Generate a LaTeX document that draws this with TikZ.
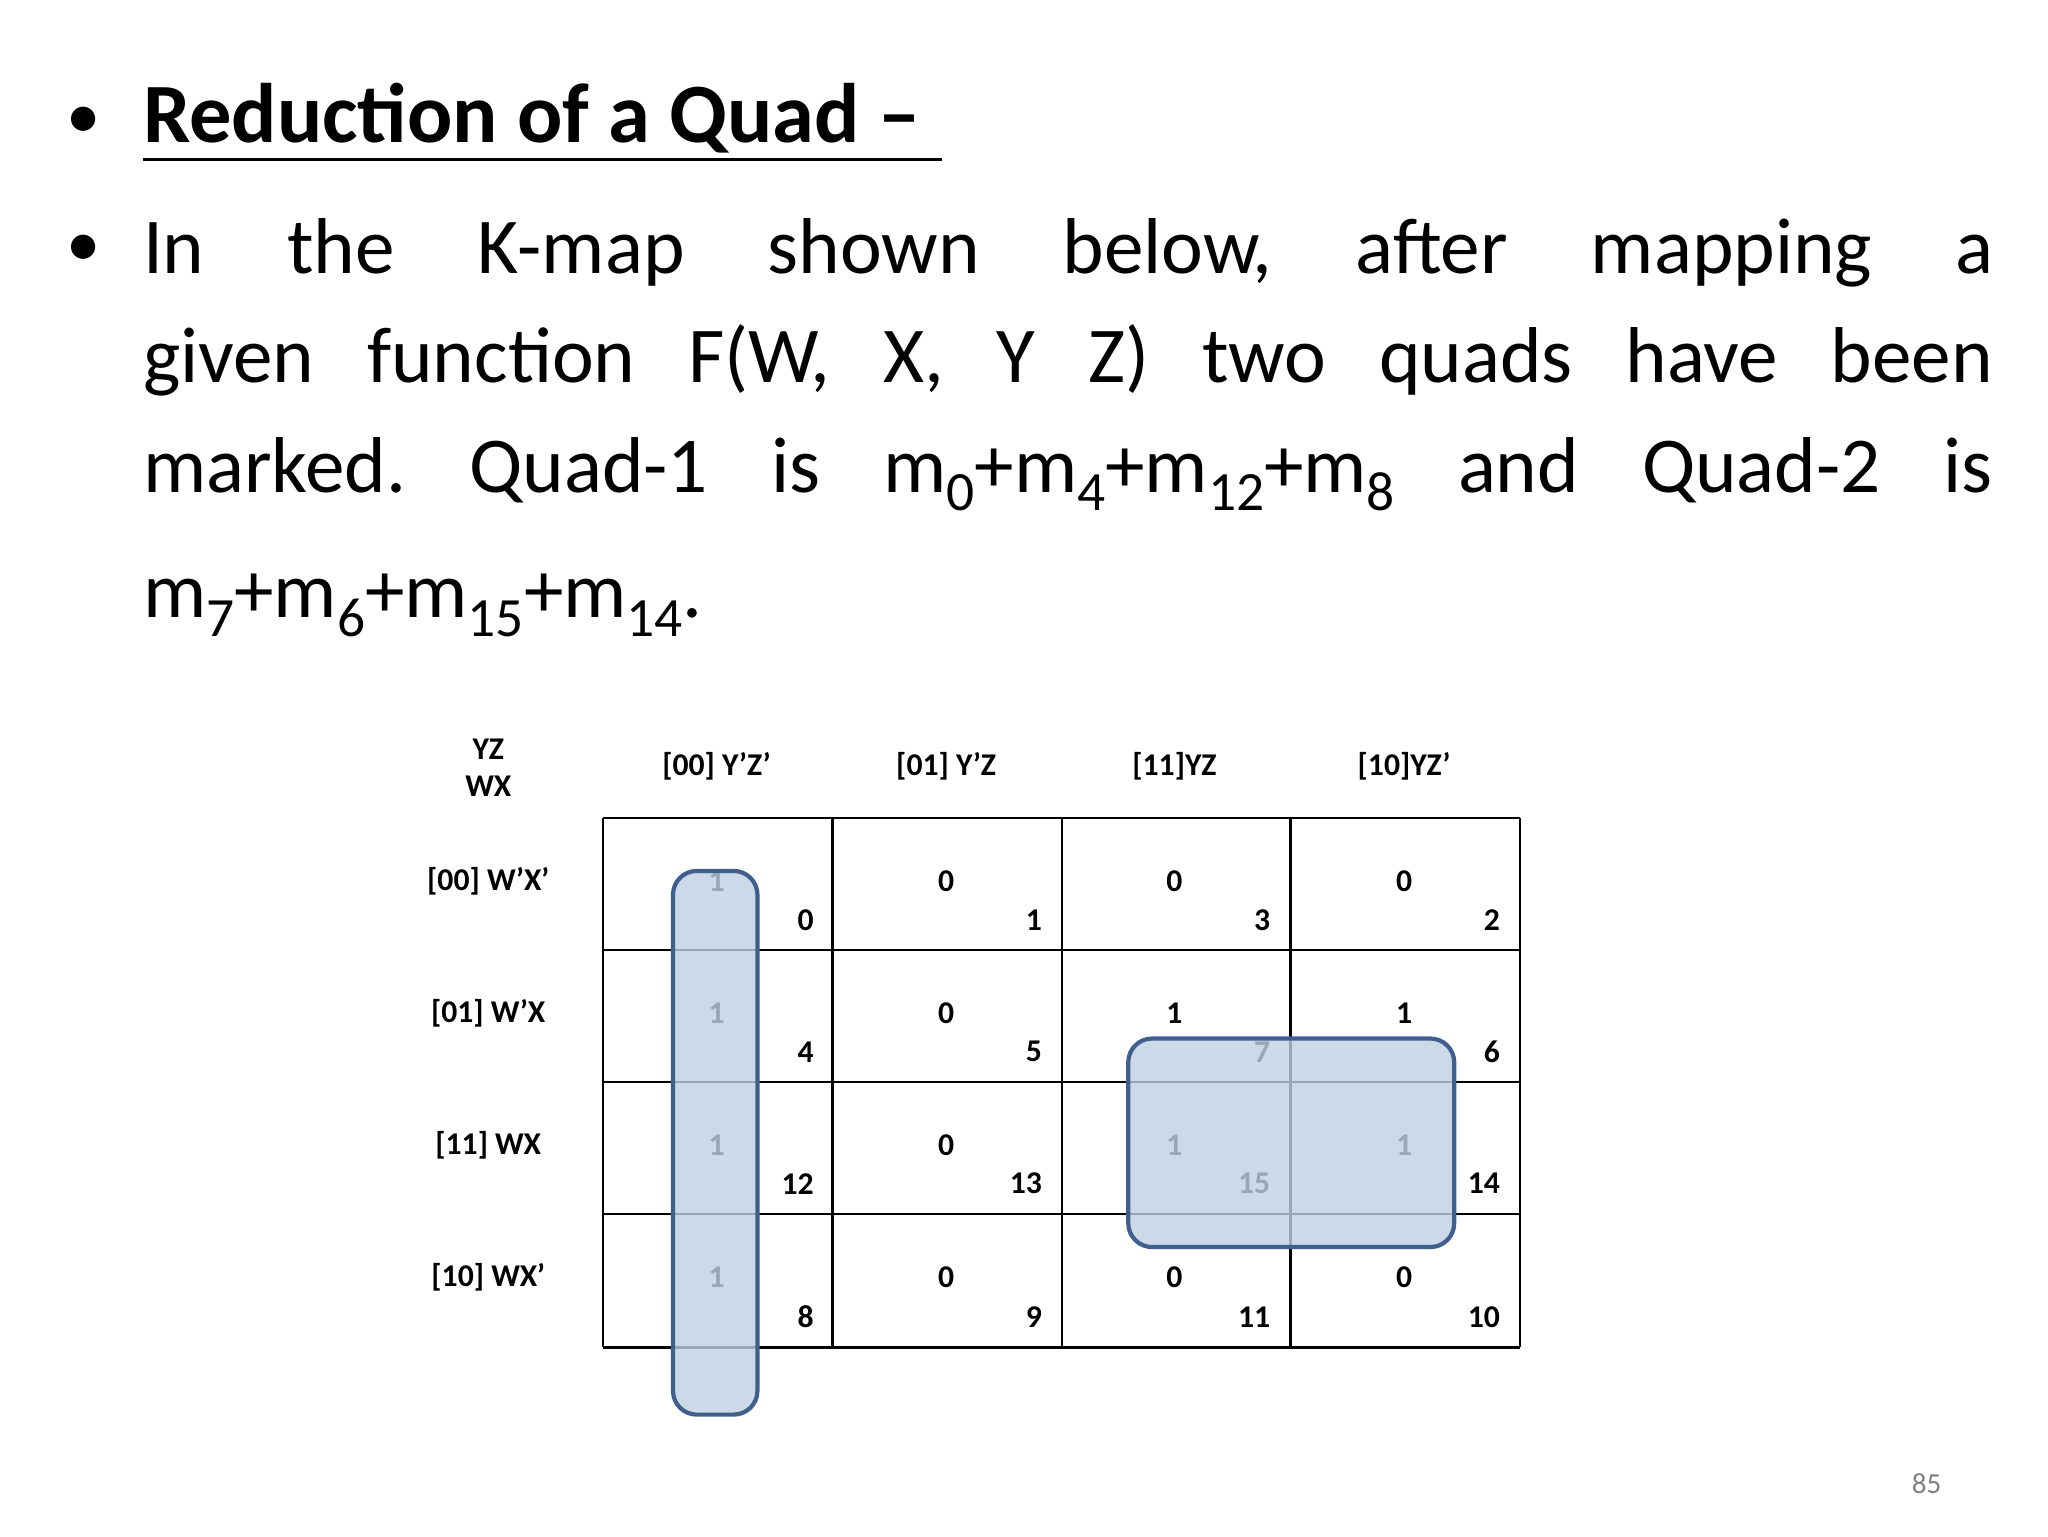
\documentclass[tikz,border=0pt]{standalone}
\usepackage{fontspec}
\setmainfont{Carlito}
\newcommand{\sbs}[1]{\lower7pt\hbox{\fontsize{21}{24}\selectfont #1}}
\begin{document}
\begin{tikzpicture}[x=0.5pt,y=-0.5pt,
  body/.style={anchor=base west,inner sep=0pt,font=\fontsize{30}{36}\selectfont},
  small/.style={inner sep=0pt,font=\fontsize{12}{14}\selectfont\bfseries},
  quad/.style={rounded corners=9pt,draw={rgb,255:red,65;green,95;blue,140},line width=1.6pt,fill={rgb,255:red,190;green,208;blue,228},fill opacity=0.8}]
\useasboundingbox (0,0) rectangle (1552,1164);
\node[body,font=\fontsize{26}{30}\selectfont] (b1) at (50,105) {•};
\node[body,font=\fontsize{26}{30}\selectfont] (b2) at (50,202) {•};
\node[body,font=\fontsize{32}{36}\selectfont\bfseries] (t) at (108,108) {Reduction of a Quad –};
\draw[line width=1.3pt] (108,121) -- (714,121);
\node[body] (l1) at (108,207) {\hbox to 701pt{In\hfill the\hfill K-map\hfill shown\hfill below,\hfill after\hfill mapping\hfill a}};
\node[body] (l2) at (108,290) {\hbox to 701pt{given\hfill function\hfill F(W,\hfill X,\hfill Y\hfill Z)\hfill two\hfill quads\hfill have\hfill been}};
\node[body] (l3) at (108,373) {\hbox to 701pt{marked.\hfill Quad-1\hfill is\hfill m\sbs{0}+m\sbs{4}+m\sbs{12}+m\sbs{8}\hfill and\hfill Quad-2\hfill is}};
\node[body] (l4) at (108,468) {m\sbs{7}+m\sbs{6}+m\sbs{15}+m\sbs{14}.};
% grid
\foreach \x in {457,631,805,978,1152} \draw[line width=0.9pt] (\x,620) -- (\x,1021);
\foreach \y in {620,720,820,920,1021} \draw[line width=0.9pt] (457,\y) -- (1152,\y);
\node[small] (yz) at (370,568) {YZ};
\node[small] (wx) at (370,596) {WX};
\foreach \t/\x in {{[00] Y’Z’}/543,{[01] Y’Z}/717,{[11]YZ}/890,{[10]YZ’}/1064}
  \node[small] at (\x,581) {\t};
\foreach \t/\y in {{[00] W’X’}/668,{[01] W’X}/768,{[11] WX}/868,{[10] WX’}/968}
  \node[small] at (370,\y) {\t};
% values
\foreach \r/\y in {0/620,1/720,2/820,3/920}{
 \foreach \c/\x in {0/543,1/717,2/890,3/1064}{
  \pgfmathtruncatemacro\v{(\c==0)||((\r==1||\r==2)&&(\c>=2))?1:0}
  \node[small] at (\x,\y+48) {\v};
 }}
\foreach \n/\x/\y in {0/617/697,1/790/697,3/963/697,2/1137/697,
 4/617/797,5/790/797,7/963/797,6/1137/797,
 12/617/897,13/790/897,15/963/897,14/1137/897,
 8/617/998,9/790/998,11/963/998,10/1137/998}
  \node[small,anchor=east] at (\x,\y) {\n};
\draw[quad] (510,660) rectangle (574,1072);
\draw[quad] (855,787) rectangle (1102,945);
\node[inner sep=0pt,text=gray,font=\fontsize{11}{13}\selectfont] (pg) at (1460,1124) {85};
\end{tikzpicture}
\end{document}
